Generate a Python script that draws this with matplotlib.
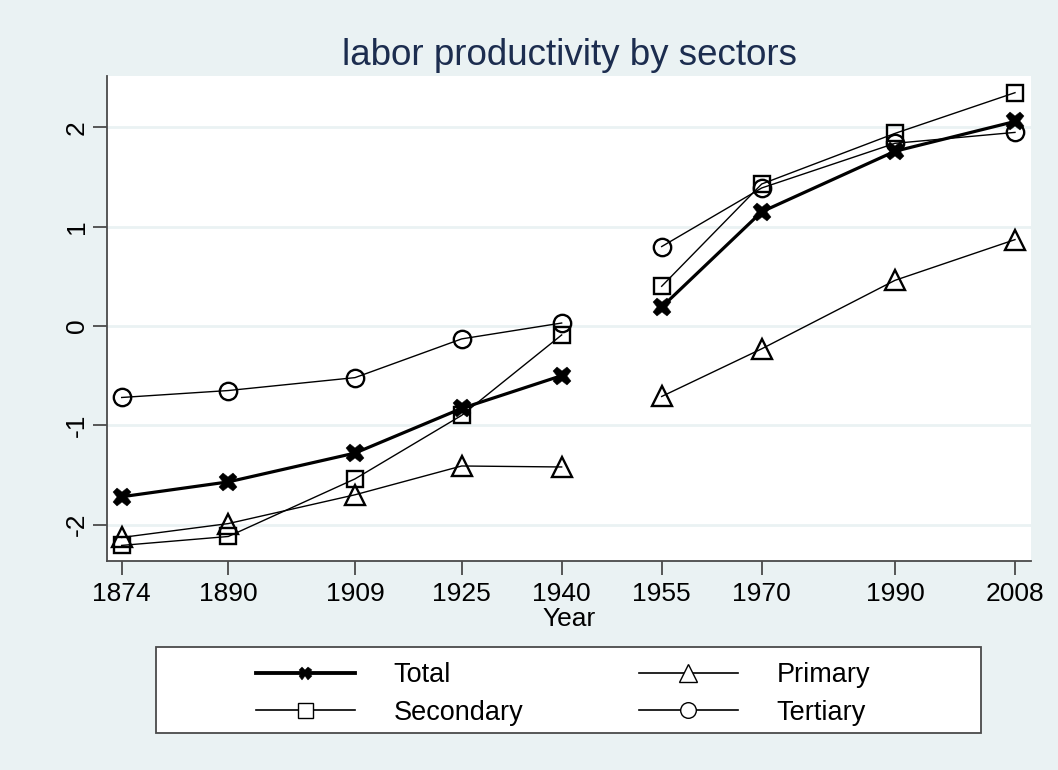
import matplotlib
matplotlib.use("Agg")
import matplotlib.pyplot as plt
from matplotlib.lines import Line2D
from matplotlib.patches import Rectangle

BG = "#eaf2f3"; AXC = "#4a4a4a"; TITLE = "#1c2d4f"
plt.rcParams.update({"font.family": ["Liberation Sans", "DejaVu Sans"], "font.size": 19})

years = [1874, 1890, 1909, 1925, 1940, 1955, 1970, 1990, 2008]
total = [-1.72, -1.57, -1.28, -0.83, -0.50, 0.19, 1.15, 1.76, 2.06]
primary = [-2.13, -1.99, -1.70, -1.41, -1.42, -0.71, -0.23, 0.46, 0.87]
secondary = [-2.21, -2.12, -1.54, -0.90, -0.09, 0.40, 1.43, 1.94, 2.35]
tertiary = [-0.72, -0.65, -0.52, -0.13, 0.03, 0.80, 1.39, 1.84, 1.95]
yticks = [-2, -1, 0, 1, 2]
# war gap: no line drawn between 1940 and 1955
split = 5

# name, values, marker, marker size, line width, face
series = [("Total", total, "X", 13, 2.3, "k"),
          ("Secondary", secondary, "s", 12, 1.0, "none"),
          ("Primary", primary, "^", 14.5, 1.0, "none"),
          ("Tertiary", tertiary, "o", 12.5, 1.0, "none")]

fig = plt.figure(figsize=(10.58, 7.70), dpi=100, facecolor=BG)
ax = fig.add_axes([107/1058, 1-561/770, (1031-107)/1058, (561-76)/770])
handles = []
for name, vals, mk, ms, lw, fc in series:
    for seg in (slice(0, split), slice(split, None)):
        ax.plot(years[seg], vals[seg], color="k", lw=lw, marker=mk, ms=ms,
                mfc=fc, mec="k", mew=1.7 if mk != "X" else 0.3, zorder=3, clip_on=False)
    handles.append(Line2D([], [], color="k", lw=lw * 1.2, marker=mk,
                          ms=ms * (0.72 if mk == "X" else 0.9), mfc=fc if mk == "X" else "white",
                          mec="k", mew=1.0 if mk != "X" else 0.3))

ax.set_xlim(1871.8, 2010.4)
ax.set_ylim(-2.367, 2.518)
ax.set_xticks(years)
ax.set_yticks(yticks)
ax.set_yticklabels([str(v) for v in yticks], rotation=90, va="center")
ax.grid(axis="y", color=BG, lw=2)
ax.set_axisbelow(True)
for s in ("top", "right"):
    ax.spines[s].set_visible(False)
for s in ("left", "bottom"):
    ax.spines[s].set_color(AXC); ax.spines[s].set_linewidth(1.3)
ax.tick_params(length=10, width=1.3, color=AXC, direction="out")
ax.tick_params(axis="x", pad=5)
ax.tick_params(axis="y", pad=3)
ax.set_xlabel("Year", labelpad=1)
ax.set_title("labor productivity by sectors", color=TITLE, fontsize=26.5, pad=8)

# legend frame drawn on its own so the entries can sit left of centre like the original
fig.add_artist(Rectangle((156/1058, 1-733/770), (981-156)/1058, (733-647)/770,
                         transform=fig.transFigure, fc="white", ec=AXC, lw=1.3, zorder=1))
leg = fig.legend(handles, [s[0] for s in series], ncol=2, loc="center left",
                 bbox_to_anchor=(242/1058, 1-694/770), frameon=False, borderpad=0,
                 handlelength=3.66, handletextpad=1.44, columnspacing=4.25,
                 labelspacing=0.42, fontsize=19.5)
leg.set_zorder(2)

fig.savefig("out.png", facecolor=BG)
